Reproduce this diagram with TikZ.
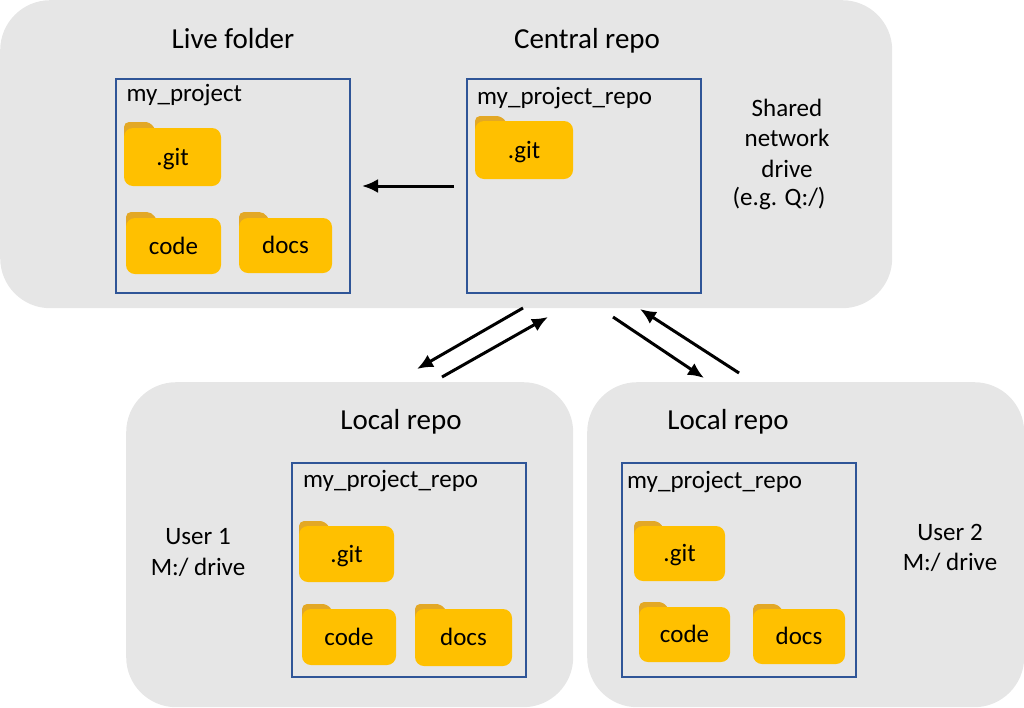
\documentclass[tikz,border=0pt]{standalone}
\usepackage{fontspec}
\usetikzlibrary{arrows.meta}
\setmainfont{Carlito}
\definecolor{panelgrey}{HTML}{E6E6E6}
\definecolor{boxblue}{HTML}{2F5597}
\definecolor{folderfront}{HTML}{FFC000}
\definecolor{foldertab}{HTML}{E3A825}
\tikzset{
  panel/.style = {fill=panelgrey, rounded corners=50pt},
  repobox/.style = {draw=boxblue, line width=1.8pt, anchor=north west, minimum width=234pt, minimum height=214pt, inner sep=0pt},
  title/.style = {font=\fontsize{29}{34}\selectfont, anchor=base},
  label/.style = {font=\fontsize{25}{30.5}\selectfont, align=center},
  flow/.style = {-{Latex[length=16pt,width=14pt]}, line width=3pt, black},
}
% name, left, tab top, body top, right, bottom, text
\newcommand{\folder}[7]{
  \fill[foldertab, rounded corners=5pt] (#2,#4+12) -- (#2,#3) -- (#2+0.27*#5-0.27*#2,#3) -- (#2+0.34*#5-0.34*#2,#4+4) -- (#2,#4+12) -- cycle;
  \node[fill=folderfront, rounded corners=9pt, inner sep=0pt, font=\fontsize{25}{30}\selectfont, text height=20pt, text depth=4pt, minimum width=#5pt-#2pt, minimum height=#6pt-#4pt] (#1) at ({(#2+#5)/2},{(#4+#6)/2}) {#7};
}
\begin{document}
\begin{tikzpicture}[x=1pt, y=-1pt]
  \useasboundingbox (0,0) rectangle (1024,707);

  % grey areas
  \node[panel, anchor=north west, inner sep=0pt, minimum width=892pt, minimum height=308pt] (shared) at (0,0) {};
  \node[panel, anchor=north west, inner sep=0pt, minimum width=447pt, minimum height=325pt] (user1) at (126,382) {};
  \node[panel, anchor=north west, inner sep=0pt, minimum width=437pt, minimum height=325pt] (user2) at (587,382) {};

  % repo boxes
  \node[repobox] (live) at (115.2,78.2) {};
  \node[repobox] (central) at (466.2,78.2) {};
  \node[repobox] (local1) at (291.2,462.2) {};
  \node[repobox] (local2) at (621.2,462.2) {};

  \node[title] (livetitle) at (233,48) {Live folder};
  \node[title] (centraltitle) at (587,48) {Central repo};
  \node[title] (local1title) at (401,429) {Local repo};
  \node[title] (local2title) at (728,429) {Local repo};

  \node[label, anchor=west, inner sep=0pt] (livename) at (126.5,95) {my\_project};
  \node[label, anchor=west, inner sep=0pt] (centralname) at (477,98) {my\_project\_repo};
  \node[label, anchor=west, inner sep=0pt] (local1name) at (303,481) {my\_project\_repo};
  \node[label, anchor=west, inner sep=0pt] (local2name) at (627,482) {my\_project\_repo};

  \node[label] (sharednote) at (787,138) {Shared\\network\\drive};
  \node[label] (sharedeg) at (779,199) {(e.g. Q:/)};
  \node[label] (user1note) at (198,552.5) {User 1\\M:/ drive};
  \node[label] (user2note) at (950,548) {User 2\\M:/ drive};

  % folders
  \folder{livegit}{124}{122}{128}{221}{186}{.git}
  \folder{livecode}{126}{212}{218}{221}{274}{code}
  \folder{livedocs}{239}{212}{218}{332}{273}{docs}
  \folder{centralgit}{475}{116}{121}{573}{179}{.git}
  \folder{onegit}{299}{521}{526}{394}{582}{.git}
  \folder{onecode}{302}{604}{609}{396}{665}{code}
  \folder{onedocs}{415}{604}{609}{512}{666}{docs}
  \folder{twogit}{634}{521}{526}{725}{581}{.git}
  \folder{twocode}{639}{602}{607}{730}{662}{code}
  \folder{twodocs}{753}{604}{609}{845}{664}{docs}

  % arrows
  \coordinate (a1) at (454,186);
  \coordinate (a2) at (362,186);
  \coordinate (b1) at (523,308);
  \coordinate (b2) at (417,369);
  \coordinate (c1) at (442,377);
  \coordinate (c2) at (548,317);
  \coordinate (d1) at (613,317);
  \coordinate (d2) at (704,378);
  \coordinate (e1) at (739,373);
  \coordinate (e2) at (640,309);
  \draw[flow] (a1) -- (a2);
  \draw[flow] (b1) -- (b2);
  \draw[flow] (c1) -- (c2);
  \draw[flow] (d1) -- (d2);
  \draw[flow] (e1) -- (e2);
\end{tikzpicture}
\end{document}
